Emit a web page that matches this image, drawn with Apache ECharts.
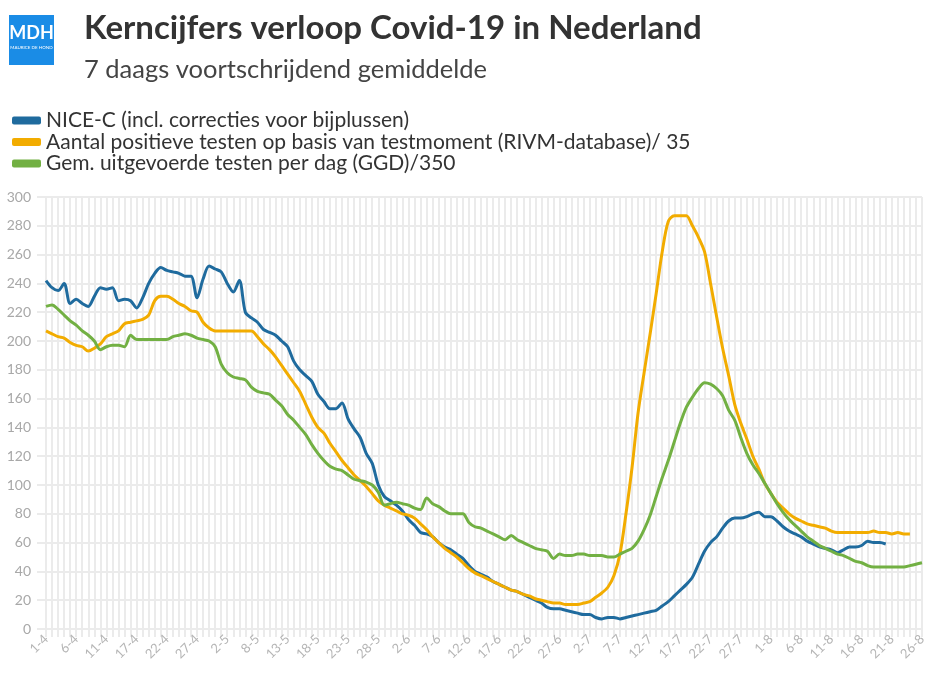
<!DOCTYPE html>
<html>
<head>
<meta charset="utf-8">
<script src="https://cdn.jsdelivr.net/npm/echarts@6/dist/echarts.min.js"></script>
<style>
html,body{margin:0;padding:0;background:#fff;}
#chart{width:951px;height:677px;}
</style>
</head>
<body>
<div id="chart"></div>
<script>
// Categories: daily dates 1-4 .. 26-8 (two dates absent in source data)
function buildDates() {
  var months = [[4, 30, [14]], [5, 31, [5]], [6, 30, []], [7, 31, []], [8, 26, []]];
  var out = [];
  months.forEach(function (m) {
    for (var d = 1; d <= m[1]; d++) {
      if (m[2].indexOf(d) >= 0) continue;
      out.push(d + '-' + m[0]);
    }
  });
  return out;
}
var categories = buildDates();

var seriesNames = [
  'NICE-C (incl. correcties voor bijplussen)',
  'Aantal positieve testen op basis van testmoment (RIVM-database)/ 35',
  'Gem. uitgevoerde testen per dag (GGD)/350'
];

var niceC = [242,237,235,240,226,229,226,224,231,237,236,237,228,229,228,223,230,240,247,251,
  249,248,247,245,245,230,243,252,250,248,240,234,242,220,216,213,208,206,204,200,
  196,186,180,176,172,163,158,153,153,157,146,139,133,122,115,100,92,89,86,82,
  76,72,67,66,64,60,57,55,52,49,44,40,38,36,33,31,29,27,26,24,
  22,20,18,15,14,14,13,12,11,10,10,8,7,8,8,7,8,9,10,11,
  12,13,16,19,23,27,31,36,45,54,60,64,70,75,77,77,78,80,81,78,
  78,75,71,68,66,64,61,59,57,56,55,53,55,57,57,58,61,60,60,59];

var positieveTesten = [207,205,203,202,199,197,196,193,195,198,203,205,207,212,213,214,215,218,228,231,
  231,229,226,224,221,220,213,209,207,207,207,207,207,207,207,203,198,194,189,183,
  177,171,165,156,147,140,136,129,123,117,112,107,103,99,94,89,86,84,82,80,
  79,77,73,69,64,60,56,53,50,46,42,39,37,35,33,31,29,27,26,24,
  23,21,20,19,18,18,17,17,17,18,19,22,25,29,37,52,80,112,150,178,
  205,233,262,283,287,287,287,280,272,262,240,217,195,176,156,143,132,120,111,101,
  94,88,84,80,77,75,73,72,71,70,68,67,67,67,67,67,67,68,67,67,
  66,67,66,66];

var uitgevoerdeTesten = [224,225,222,218,214,211,207,204,200,194,196,197,197,196,204,201,201,201,201,201,
  201,203,204,205,204,202,201,200,196,184,178,175,174,173,168,165,164,163,159,155,
  149,145,140,135,128,122,117,113,111,110,107,104,103,102,100,95,86,87,88,87,
  86,84,83,91,87,85,82,80,80,80,74,71,70,68,66,64,62,65,62,60,
  58,56,55,54,49,52,51,51,52,52,51,51,51,50,50,52,54,56,61,69,
  79,92,105,117,130,143,154,161,167,171,170,167,162,152,145,133,122,114,108,101,
  94,87,81,76,72,68,64,61,58,56,54,52,51,49,47,46,44,43,43,43,
  43,43,43,44,45,46];

var colors = ['#1f6b9e', '#f2ac00', '#72b043'];
var gridColor = '#ebebeb';
var font = 'Lato, "Open Sans", sans-serif';

var chart = echarts.init(document.getElementById('chart'), null, {renderer: 'canvas'});

function mkSeries(name, data, color) {
  return {
    name: name, type: 'line', data: data, smooth: 0.3, showSymbol: false,
    symbol: 'none', lineStyle: {width: 3, color: color}, itemStyle: {color: color},
    emphasis: {disabled: true}
  };
}

chart.setOption({
  animation: false,
  backgroundColor: '#fff',
  textStyle: {fontFamily: font},
  graphic: [
    {type: 'rect', left: 9, top: 15, shape: {width: 45, height: 50}, style: {fill: '#1a8ce6'}},
    {type: 'text', x: 31.5, y: 24, style: {text: 'MDH', fill: '#fff', font: 'bold 18px ' + font, align: 'center'}},
    {type: 'text', x: 31.5, y: 45, style: {text: 'MAURICE DE HOND', fill: '#fff', font: '4.5px ' + font, align: 'center'}},
    {type: 'text', left: 84, top: 12, style: {text: 'Kerncijfers verloop Covid-19 in Nederland', fill: '#333', font: 'bold 33px ' + font}},
    {type: 'text', left: 84, top: 57, style: {text: '7 daags voortschrijdend gemiddelde', fill: '#444', font: '25.5px ' + font}}
  ],
  legend: {
    orient: 'vertical', left: 7, top: 105, itemWidth: 29, itemHeight: 8, itemGap: 0.5,
    icon: 'roundRect', data: seriesNames,
    textStyle: {fontSize: 21, color: '#333', fontFamily: font}
  },
  grid: {left: 46, right: 29, top: 197, bottom: 48, containLabel: false},
  xAxis: {
    type: 'category', data: categories, boundaryGap: false,
    axisLine: {show: false},
    axisTick: {show: true, interval: 0, length: 8, lineStyle: {color: gridColor, width: 2}},
    splitLine: {show: true, interval: 0, lineStyle: {color: gridColor, width: 2}},
    axisLabel: {interval: 4, rotate: 45, color: '#b5b5b5', fontSize: 13, margin: 8, fontFamily: font}
  },
  yAxis: {
    type: 'value', min: 0, max: 300, interval: 20,
    axisLine: {show: false},
    axisTick: {show: true, length: 9, lineStyle: {color: gridColor, width: 2}},
    splitLine: {show: true, lineStyle: {color: gridColor, width: 2}},
    axisLabel: {color: '#a8a8a8', fontSize: 14, margin: 15, fontFamily: font}
  },
  series: [
    mkSeries(seriesNames[0], niceC, colors[0]),
    mkSeries(seriesNames[1], positieveTesten, colors[1]),
    mkSeries(seriesNames[2], uitgevoerdeTesten, colors[2])
  ]
});
</script>
</body>
</html>
